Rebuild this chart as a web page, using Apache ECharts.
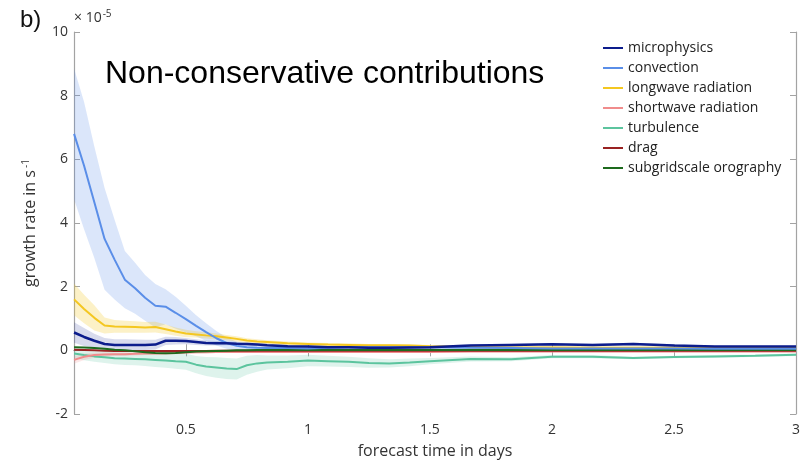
<!DOCTYPE html>
<html>
<head>
<meta charset="utf-8">
<script src="https://cdn.jsdelivr.net/npm/echarts@6/dist/echarts.min.js"></script>
<style>
  html, body { margin: 0; padding: 0; background: #fff; }
  #chart { width: 805px; height: 460px; }
</style>
</head>
<body>
<div id="chart"></div>
<script>
// forecast time (days) and growth rates (units of 1e-5 s^-1)
const days = [0.042, 0.083, 0.125, 0.167, 0.208, 0.25, 0.292, 0.333, 0.375, 0.417,
  0.458, 0.5, 0.542, 0.583, 0.625, 0.667, 0.708, 0.75, 0.792, 0.833,
  0.917, 1.0, 1.083, 1.167, 1.25, 1.333, 1.417, 1.5,
  1.667, 1.833, 2.0, 2.167, 2.333, 2.5, 2.667, 2.833, 3.0];

const microphysics = [0.56, 0.42, 0.3, 0.2, 0.17, 0.17, 0.17, 0.17, 0.18, 0.3,
  0.3, 0.29, 0.26, 0.23, 0.22, 0.22, 0.21, 0.2, 0.18, 0.16,
  0.13, 0.12, 0.1, 0.1, 0.08, 0.08, 0.09, 0.1,
  0.15, 0.17, 0.19, 0.17, 0.2, 0.15, 0.12, 0.12, 0.12];
const microSpread = [0.32, 0.28, 0.22, 0.19, 0.18, 0.18, 0.17, 0.16, 0.15, 0.13,
  0.12, 0.1, 0.09, 0.08, 0.07, 0.06, 0.06, 0.05, 0.05, 0.05,
  0.04, 0.04, 0.04, 0.04, 0.04, 0.04, 0.04, 0.04,
  0.04, 0.04, 0.04, 0.04, 0.04, 0.04, 0.03, 0.03, 0.03];

const convection = [6.8, 5.8, 4.65, 3.5, 2.85, 2.22, 1.95, 1.65, 1.4, 1.37,
  1.18, 0.98, 0.77, 0.57, 0.38, 0.23, 0.14, 0.1, 0.08, 0.07,
  0.07, 0.06, 0.08, 0.1, 0.1, 0.1, 0.1, 0.1,
  0.08, 0.07, 0.06, 0.06, 0.06, 0.06, 0.05, 0.05, 0.05];
const convSpread = [2.05, 2.0, 1.75, 1.6, 1.25, 0.9, 0.8, 0.72, 0.68, 0.55,
  0.5, 0.42, 0.33, 0.28, 0.23, 0.18, 0.13, 0.1, 0.08, 0.07,
  0.06, 0.05, 0.05, 0.05, 0.04, 0.04, 0.04, 0.04,
  0.04, 0.04, 0.03, 0.03, 0.03, 0.03, 0.03, 0.03, 0.03];

const longwave = [1.6, 1.3, 1.02, 0.78, 0.75, 0.74, 0.73, 0.72, 0.73, 0.66,
  0.59, 0.53, 0.5, 0.47, 0.44, 0.4, 0.36, 0.31, 0.28, 0.26,
  0.22, 0.2, 0.18, 0.17, 0.16, 0.16, 0.15, 0.13,
  0.1, 0.09, 0.09, 0.08, 0.08, 0.08, 0.08, 0.08, 0.08];
const longSpread = [0.5, 0.45, 0.4, 0.25, 0.2, 0.19, 0.18, 0.17, 0.17, 0.15,
  0.13, 0.12, 0.1, 0.1, 0.09, 0.08, 0.08, 0.07, 0.07, 0.06,
  0.06, 0.05, 0.05, 0.05, 0.04, 0.04, 0.04, 0.04,
  0.04, 0.04, 0.04, 0.04, 0.04, 0.04, 0.04, 0.04, 0.04];

const shortwave = [-0.3, -0.2, -0.15, -0.13, -0.12, -0.12, -0.11, -0.1, -0.1, -0.09,
  -0.08, -0.07, -0.06, -0.06, -0.05, -0.05, -0.05, -0.05, -0.05, -0.05,
  -0.05, -0.05, -0.05, -0.05, -0.05, -0.05, -0.05, -0.05,
  -0.04, -0.04, -0.04, -0.04, -0.04, -0.04, -0.04, -0.04, -0.04];
const shortSpread = [0.12, 0.1, 0.08, 0.07, 0.06, 0.06, 0.05, 0.05, 0.05, 0.04,
  0.04, 0.04, 0.04, 0.03, 0.03, 0.03, 0.03, 0.03, 0.03, 0.03,
  0.03, 0.03, 0.03, 0.03, 0.03, 0.03, 0.03, 0.03,
  0.03, 0.03, 0.03, 0.03, 0.03, 0.03, 0.03, 0.03, 0.03];

const turbulence = [-0.1, -0.15, -0.19, -0.22, -0.25, -0.26, -0.27, -0.28, -0.3, -0.32,
  -0.34, -0.36, -0.45, -0.51, -0.54, -0.57, -0.59, -0.47, -0.41, -0.38,
  -0.36, -0.32, -0.34, -0.36, -0.4, -0.41, -0.38, -0.34,
  -0.27, -0.28, -0.2, -0.2, -0.24, -0.21, -0.19, -0.17, -0.14];
const turbSpread = [0.15, 0.16, 0.17, 0.18, 0.19, 0.2, 0.2, 0.21, 0.22, 0.23,
  0.24, 0.25, 0.27, 0.3, 0.32, 0.33, 0.33, 0.3, 0.26, 0.22,
  0.2, 0.18, 0.17, 0.16, 0.15, 0.13, 0.12, 0.1,
  0.08, 0.06, 0.05, 0.05, 0.04, 0.04, 0.04, 0.04, 0.04];

const drag = [0.02, 0.01, 0.0, -0.01, -0.02, -0.02, -0.02, -0.02, -0.02, -0.02,
  -0.02, -0.02, -0.02, -0.02, -0.01, -0.01, -0.01, -0.01, -0.01, -0.01,
  -0.01, -0.01, -0.01, -0.01, -0.01, -0.01, -0.01, -0.01,
  -0.01, -0.01, -0.01, -0.01, -0.01, -0.01, -0.01, -0.01, -0.01];

const orography = [0.1, 0.09, 0.07, 0.05, 0.02, 0.0, -0.03, -0.06, -0.08, -0.09,
  -0.08, -0.06, -0.04, -0.03, -0.02, -0.01, 0.0, 0.0, 0.01, 0.01,
  0.01, 0.01, 0.01, 0.01, 0.01, 0.01, 0.01, 0.01,
  0.01, 0.01, 0.01, 0.01, 0.01, 0.01, 0.01, 0.01, 0.01];

const xTicks = [0.5, 1, 1.5, 2, 2.5, 3];
const yTicks = { min: -2, max: 10, step: 2 };

const AXIS_GREY = '#a3a3a3';
const LABEL_FONT = "'Open Sans', sans-serif";

function pairs(values) {
  return days.map((d, i) => [d, values[i]]);
}

// shaded spread around a mean curve, drawn as one polygon via the axis scales
function band(name, center, spread, fill) {
  return {
    type: 'custom',
    name: name,
    silent: true,
    z: 1,
    xAxisIndex: 0,
    yAxisIndex: 0,
    data: [[days[0], center[0]]],
    renderItem: function (params, api) {
      const upper = days.map((d, i) => api.coord([d, center[i] + spread[i]]));
      const lower = days.map((d, i) => api.coord([d, center[i] - spread[i]])).reverse();
      return {
        type: 'polygon',
        shape: { points: upper.concat(lower) },
        style: { fill: fill, stroke: null }
      };
    }
  };
}

function line(name, values, color, width) {
  return {
    type: 'line',
    name: name,
    data: pairs(values),
    showSymbol: false,
    symbol: 'none',
    color: color,
    lineStyle: { color: color, width: width || 2 },
    z: 3,
    xAxisIndex: 0,
    yAxisIndex: 0
  };
}

const names = ['microphysics', 'convection', 'longwave radiation', 'shortwave radiation',
  'turbulence', 'drag', 'subgridscale orography'];

const chart = echarts.init(document.getElementById('chart'), null, { renderer: 'canvas' });

const boxAxis = {
  axisLine: { show: true, lineStyle: { color: AXIS_GREY, width: 1.2 } },
  splitLine: { show: false }
};

chart.setOption({
  animation: false,
  backgroundColor: '#ffffff',
  grid: { left: 74, right: 9, top: 32, bottom: 46, containLabel: false, outerBoundsMode: 'none' },
  xAxis: [
    Object.assign({}, boxAxis, {
      type: 'value', position: 'bottom', min: 0.0417, max: 3,
      axisTick: { show: true, inside: true, length: 6, customValues: xTicks, lineStyle: { color: AXIS_GREY } },
      axisLabel: { show: true, customValues: xTicks, margin: 9, color: '#333', fontSize: 14, fontFamily: LABEL_FONT,
        formatter: v => String(v) },
      name: 'forecast time in days', nameLocation: 'middle', nameGap: 29,
      nameTextStyle: { color: '#333', fontSize: 16, fontFamily: LABEL_FONT }
    }),
    Object.assign({}, boxAxis, {
      type: 'value', position: 'top', min: 0.0417, max: 3,
      axisTick: { show: true, inside: true, length: 6, customValues: xTicks, lineStyle: { color: AXIS_GREY } },
      axisLabel: { show: false }
    })
  ],
  yAxis: [
    Object.assign({}, boxAxis, {
      type: 'value', position: 'left', min: yTicks.min, max: yTicks.max, interval: yTicks.step,
      axisTick: { show: true, inside: true, length: 6, lineStyle: { color: AXIS_GREY } },
      axisLabel: { margin: 6, color: '#333', fontSize: 14, fontFamily: LABEL_FONT },
      name: '{a|growth rate in s}{b|-1}', nameLocation: 'middle', nameGap: 34, nameRotate: 90,
      nameTextStyle: {
        color: '#333', fontFamily: LABEL_FONT,
        rich: {
          a: { fontSize: 16, color: '#333', fontFamily: LABEL_FONT },
          b: { fontSize: 10, color: '#333', fontFamily: LABEL_FONT, padding: [0, 0, 9, 2] }
        }
      }
    }),
    Object.assign({}, boxAxis, {
      type: 'value', position: 'right', min: yTicks.min, max: yTicks.max, interval: yTicks.step,
      axisTick: { show: true, inside: true, length: 6, lineStyle: { color: AXIS_GREY } },
      axisLabel: { show: false }
    })
  ],
  legend: {
    data: names,
    orient: 'vertical',
    left: 603,
    top: 41,
    icon: 'rect',
    itemWidth: 20,
    itemHeight: 2,
    itemGap: 6,
    padding: 0,
    textStyle: { color: '#222', fontSize: 14, lineHeight: 14, fontFamily: LABEL_FONT }
  },
  graphic: [
    { type: 'text', left: 20, top: 8, style: { text: 'b)', fontSize: 24, fill: '#111', fontFamily: 'Liberation Sans, Arial, sans-serif' } },
    { type: 'text', x: 74, y: 28, style: {
        text: '{a|× 10}{b|-5}', verticalAlign: 'bottom',
        rich: {
          a: { fontSize: 14, fill: '#333', fontFamily: LABEL_FONT },
          b: { fontSize: 10, fill: '#333', fontFamily: LABEL_FONT, padding: [0, 0, 9, 1] }
        } } },
    { type: 'text', x: 105, y: 74, style: { text: 'Non-conservative contributions', fontSize: 32, fill: '#000',
        fontFamily: 'Liberation Sans, Arial, sans-serif', verticalAlign: 'middle' } }
  ],
  series: [
    band('convection spread', convection, convSpread, 'rgba(90,142,232,0.22)'),
    band('longwave spread', longwave, longSpread, 'rgba(244,199,32,0.25)'),
    band('microphysics spread', microphysics, microSpread, 'rgba(12,28,140,0.16)'),
    band('turbulence spread', turbulence, turbSpread, 'rgba(92,196,158,0.2)'),
    band('shortwave spread', shortwave, shortSpread, 'rgba(240,140,140,0.2)'),
    line('turbulence', turbulence, '#5cc49e'),
    line('shortwave radiation', shortwave, '#f08c8c'),
    line('drag', drag, '#992222'),
    line('subgridscale orography', orography, '#1d6a1d'),
    line('longwave radiation', longwave, '#f4c720'),
    line('convection', convection, '#5a8ee8'),
    line('microphysics', microphysics, '#0c1c8c', 2.5)
  ]
});
</script>
</body>
</html>
